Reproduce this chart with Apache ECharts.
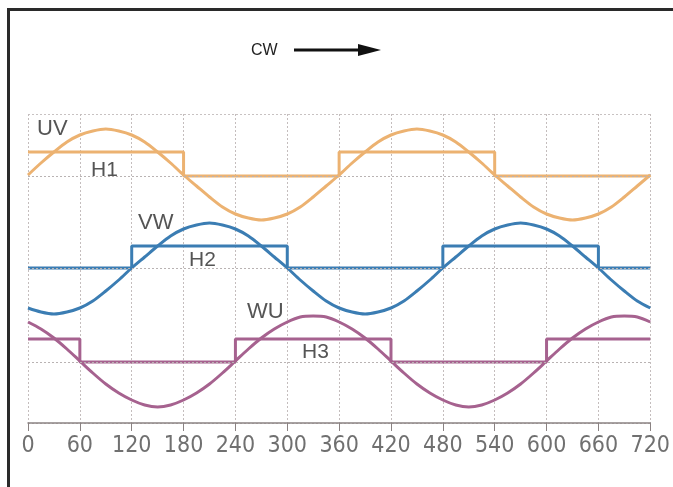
<!DOCTYPE html>
<html><head><meta charset="utf-8">
<script src="https://cdn.jsdelivr.net/npm/echarts@6/dist/echarts.min.js"></script>
<style>html,body{margin:0;padding:0;background:#fff}#c{width:673px;height:487px}</style>
</head><body><div id="c"></div>
<script>
// angle samples (degrees)
var angles = [0,15,30,45,60,75,90,105,120,135,150,165,180,195,210,225,240,255,270,285,300,315,330,345,
              360,375,390,405,420,435,450,465,480,495,510,525,540,555,570,585,600,615,630,645,660,675,690,705,720];
// sine curves (height above the bottom axis)
var uvValues = [248,260,271,281,288,292,294,292,288,281,271,260,248,237,226,216,209,205,203,205,209,216,226,237,
                248,260,271,281,288,292,294,292,288,281,271,260,248,237,226,216,209,205,203,205,209,216,226,237,248];
var vwValues = [115,111,109,111,115,122,132,143,155,166,177,187,194,198,200,198,194,187,177,166,155,143,132,122,
                115,111,109,111,115,122,132,143,155,166,177,187,194,198,200,198,194,187,177,166,155,143,132,122,115];
var wuValues = [101,94,85,74,62,50,39,30,23,18,16,18,23,30,39,50,62,74,85,94,101,106,107,106,
                101,94,85,74,62,50,39,30,23,18,16,18,23,30,39,50,62,74,85,94,101,106,107,106,101];
// Hall signals: [angle, level]
var h1Points = [[0,271],[180,271],[180,247],[360,247],[360,271],[540,271],[540,247],[720,247]];
var h2Points = [[0,155],[120,155],[120,177],[300,177],[300,155],[480,155],[480,177],[660,177],[660,155],[720,155]];
var h3Points = [[0,84],[60,84],[60,61],[240,61],[240,84],[420,84],[420,61],[600,61],[600,84],[720,84]];
var baselines = [247,155,61];
var tickLabels = ['0','60','120','180','240','300','360','420','480','540','600','660','720'];

var cOr='#ECB271', cBl='#3B7DB3', cPu='#A6628F';
function zip(xs, ys){ return xs.map(function(x,i){return [x, ys[i]];}); }
function sine(name, vals, col){
  return {name:name,type:'line',data:zip(angles,vals),smooth:0.3,symbol:'none',
    lineStyle:{color:col,width:3},z:3};
}
function hall(name, pts, col, base){
  return {name:name,type:'line',data:pts,symbol:'none',lineStyle:{color:col,width:3},z:4,
    markLine:{silent:true,symbol:'none',label:{show:false},
      lineStyle:{color:'#b9b3b3',type:[2,2],width:1},data:[{yAxis:base}]}};
}
var chart = echarts.init(document.getElementById('c'));
chart.setOption({
  animation:false,
  grid:{left:28,right:21,top:114,bottom:64,show:false},
  xAxis:{type:'value',min:0,max:720,interval:60,
    axisLine:{lineStyle:{color:'#8a8282',width:1.5}},
    axisTick:{length:8,lineStyle:{color:'#8a8282'}},
    axisLabel:{margin:12,color:'#707070',fontSize:23,fontFamily:'Liberation Sans Narrow, DejaVu Sans Condensed, sans-serif',
      formatter:function(v){return tickLabels[Math.round(v/60)];}},
    splitLine:{show:true,lineStyle:{color:'#c4bdbd',type:[2,2],width:1}}},
  yAxis:{type:'value',min:0,max:309,interval:309,axisLine:{show:false},axisTick:{show:false},axisLabel:{show:false},
    splitLine:{show:true,lineStyle:{color:'#c8c2c2',type:[2,2],width:1}}},
  series:[
    hall('H1',h1Points,cOr,baselines[0]),
    hall('H2',h2Points,cBl,baselines[1]),
    hall('H3',h3Points,cPu,baselines[2]),
    sine('UV',uvValues,cOr),
    sine('VW',vwValues,cBl),
    sine('WU',wuValues,cPu)
  ],
  graphic:[
    {type:'rect',shape:{x:7,y:8,width:700,height:3},style:{fill:'#2a2a2a'}},
    {type:'rect',shape:{x:7,y:8,width:3,height:490},style:{fill:'#2a2a2a'}},
    {type:'text',style:{x:251,y:51,text:'CW',fill:'#222',font:'16px Liberation Sans, Arial, sans-serif',textVerticalAlign:'middle'}},
    {type:'line',shape:{x1:294,y1:50,x2:362,y2:50},style:{stroke:'#111',lineWidth:3}},
    {type:'polygon',shape:{points:[[358,44],[381,50],[358,56]]},style:{fill:'#111'}},
    {type:'text',style:{x:37,y:129,text:'UV',fill:'#555',font:'22px Liberation Sans, Arial, sans-serif',textVerticalAlign:'middle'},z:10},
    {type:'text',style:{x:91,y:170,text:'H1',fill:'#555',font:'21px Liberation Sans, Arial, sans-serif',textVerticalAlign:'middle'},z:10},
    {type:'text',style:{x:138,y:223,text:'VW',fill:'#555',font:'22px Liberation Sans, Arial, sans-serif',textVerticalAlign:'middle'},z:10},
    {type:'text',style:{x:189,y:260,text:'H2',fill:'#555',font:'21px Liberation Sans, Arial, sans-serif',textVerticalAlign:'middle'},z:10},
    {type:'text',style:{x:247,y:312,text:'WU',fill:'#555',font:'22px Liberation Sans, Arial, sans-serif',textVerticalAlign:'middle'},z:10},
    {type:'text',style:{x:302,y:352,text:'H3',fill:'#555',font:'21px Liberation Sans, Arial, sans-serif',textVerticalAlign:'middle'},z:10}
  ]
});
</script></body></html>
